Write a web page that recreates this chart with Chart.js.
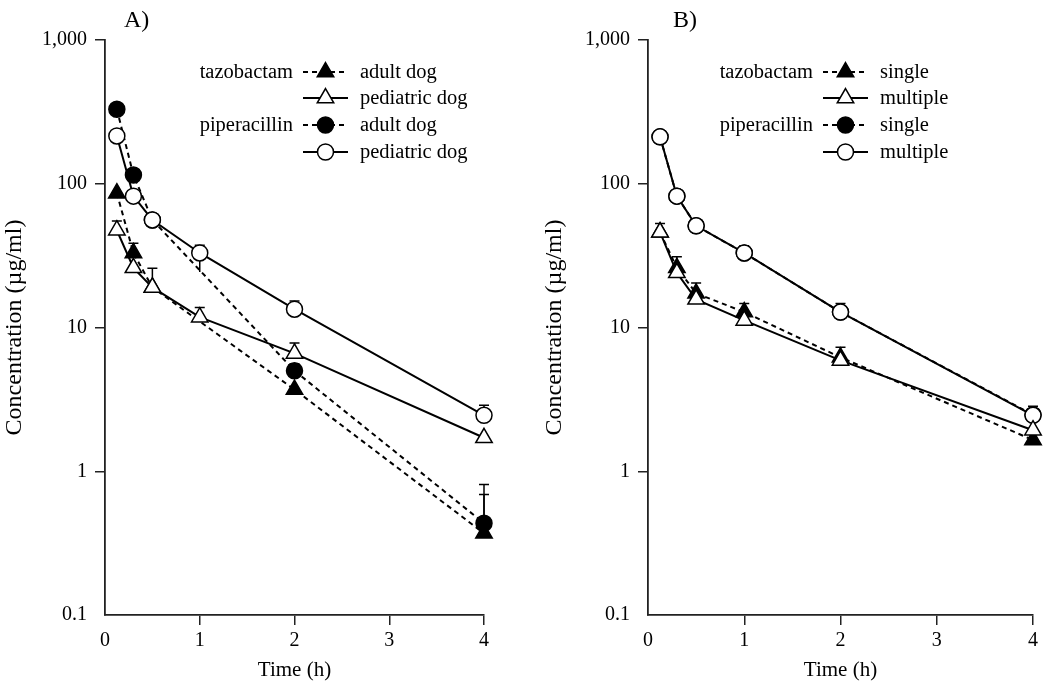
<!DOCTYPE html>
<html><head><meta charset="utf-8">
<script src="https://cdn.jsdelivr.net/npm/chart.js@4.4.0/dist/chart.umd.min.js"></script>
<style>
html,body{margin:0;padding:0;background:#fff;}
#wrap{position:relative;width:1053px;height:683px;overflow:hidden;}
canvas{position:absolute;top:0;}
#ca{left:0;} #cb{left:540px;}
</style></head><body>
<div id="wrap"><canvas id="ca" width="527" height="683"></canvas><canvas id="cb" width="513" height="683"></canvas></div>
<script>
// ---- data ----
const times = [0.125, 0.3, 0.5, 1, 2, 4];
const yTicks = [0.1, 1, 10, 100, 1000];
const yTickLabels = ['0.1', '1', '10', '100', '1,000'];
const xTicks = [0, 1, 2, 3, 4];

// Panel A: adult vs pediatric dog
const aTazAdult      = [86, 33, 19, null, 3.7, 0.37];
const aTazAdultErr   = [null, 38.6, null, null, null, 0.69];
const aTazPed        = [47.5, 26, 19, 11.8, 6.6, 1.71];
const aTazPedErr     = [55, null, 25.8, 13.8, 7.8, null];
const aPipAdult      = [330, 115, 56, null, 5.0, 0.435];
const aPipAdultErr   = [null, null, null, null, 5.6, 0.81];
const aPipPed        = [215, 82, 56, 33, 13.4, 2.45];
const aPipPedErr     = [null, null, null, 37.4, 15.3, 2.88];
const aPipPedErrLow  = [null, null, null, 24.3, null, null];

// Panel B: single vs multiple dose
const bTazSingle     = [46, 26, 17.3, 12.8, 6.2, 1.65];
const bTazSingleErr  = [null, 31, 20.4, 14.7, 7.3, null];
const bTazMult       = [46, 24, 15.7, 11.2, 5.9, 1.93];
const bTazMultErr    = [53, null, null, null, null, null];
const bPipSingle     = [212, 82, 51, 33, 12.8, 2.47];
const bPipMult       = [212, 82, 51, 33, 12.8, 2.45];
const bPipMultErr    = [null, null, null, 37, 14.7, 2.83];

const FONT = "'Liberation Serif', 'Times New Roman', serif";

function pts(vals){ return vals.map((v,i)=>({x: times[i], y: v})); }

function ds(label, vals, filled, style, errUp, errLow, order){
  return {
    label, data: pts(vals), errUp, errLow, order,
    borderColor: '#000', borderWidth: 2,
    borderDash: filled ? [5,4] : [],
    pointStyle: style, pointRadius: style === 'triangle' ? 9.5 : 8,
    pointBorderWidth: 1.5, pointBorderColor: '#000',
    pointBackgroundColor: filled ? '#000' : '#fff',
    fill: false, tension: 0, spanGaps: true, clip: false
  };
}

const errorBars = {
  id: 'errorBars',
  beforeDatasetsDraw(chart){
    const ctx = chart.ctx, xs = chart.scales.x, ys = chart.scales.y;
    ctx.save(); ctx.strokeStyle = '#000'; ctx.lineWidth = 1.5; ctx.setLineDash([]);
    chart.data.datasets.forEach(d => {
      [['errUp', true], ['errLow', false]].forEach(([k, cap]) => {
        const e = d[k]; if (!e) return;
        e.forEach((v, i) => {
          if (v == null || d.data[i].y == null) return;
          const x = xs.getPixelForValue(d.data[i].x);
          const y0 = ys.getPixelForValue(d.data[i].y);
          const y1 = ys.getPixelForValue(v);
          ctx.beginPath(); ctx.moveTo(x, y0); ctx.lineTo(x, y1);
          if (cap) { ctx.moveTo(x - 5, y1); ctx.lineTo(x + 5, y1); }
          ctx.stroke();
        });
      });
    });
    ctx.restore();
  }
};

const customLegend = {
  id: 'customLegend',
  afterDraw(chart, args, opts){
    const ctx = chart.ctx;
    ctx.save();
    ctx.font = '20.5px ' + FONT; ctx.fillStyle = '#000';
    opts.items.forEach((it, r) => {
      const y = opts.rows[r];
      const d = chart.data.datasets[it.ds];
      if (it.group) { ctx.fillStyle = '#000'; ctx.textAlign = 'right'; ctx.textBaseline = 'alphabetic'; ctx.fillText(it.group, opts.x - 10, y + 6); }
      ctx.strokeStyle = '#000'; ctx.lineWidth = 2; ctx.setLineDash(d.borderDash);
      ctx.beginPath(); ctx.moveTo(opts.x, y); ctx.lineTo(opts.x + 45, y); ctx.stroke();
      ctx.setLineDash([]);
      ctx.fillStyle = d.pointBackgroundColor; ctx.strokeStyle = '#000'; ctx.lineWidth = 1.5;
      Chart.helpers.drawPoint(ctx, {pointStyle: d.pointStyle, radius: d.pointRadius, rotation: 0, borderWidth: 1.5}, opts.x + 22.5, y);
      ctx.fillStyle = '#000'; ctx.textAlign = 'left'; ctx.textBaseline = 'alphabetic';
      ctx.fillText(it.label, opts.x + 57, y + 6);
    });
    ctx.restore();
  }
};

const panelLabel = {
  id: 'panelLabel',
  afterDraw(chart, args, opts){
    const ctx = chart.ctx;
    ctx.save(); ctx.font = '24px ' + FONT; ctx.fillStyle = '#000';
    ctx.textAlign = 'left'; ctx.textBaseline = 'alphabetic';
    ctx.fillText(opts.text, opts.x, 27);
    ctx.restore();
  }
};

function makeChart(id, datasets, yWidth, rightPad, legendOpts, labelOpts){
  const axisCol = '#222';
  return new Chart(document.getElementById(id), {
    type: 'line',
    data: { datasets },
    plugins: [errorBars, customLegend, panelLabel],
    options: {
      responsive: false, animation: false, devicePixelRatio: 1,
      layout: { padding: { top: 40, right: rightPad, left: 0, bottom: 0 } },
      plugins: {
        legend: { display: false }, tooltip: { enabled: false },
        customLegend: legendOpts, panelLabel: labelOpts
      },
      scales: {
        x: {
          type: 'linear', min: 0, max: 4,
          afterBuildTicks: s => { s.ticks = xTicks.map(v => ({value: v})); },
          ticks: { color: '#000', font: { family: FONT, size: 20 }, padding: 4, maxRotation: 0 },
          grid: { drawOnChartArea: false, drawTicks: true, tickLength: 10,
                  color: c => c.index === 0 ? 'rgba(0,0,0,0)' : axisCol, lineWidth: 1.5 },
          border: { color: axisCol, width: 1.8 },
          title: { display: true, text: 'Time (h)', color: '#000', font: { family: FONT, size: 21 }, padding: { top: 0, bottom: 0 } },
          afterFit: s => { s.height = 68; }
        },
        y: {
          type: 'logarithmic', min: 0.1, max: 1000,
          afterBuildTicks: s => { s.ticks = yTicks.map(v => ({value: v})); },
          ticks: { color: '#000', font: { family: FONT, size: 20 }, padding: 8,
                   callback: (v, i) => yTickLabels[i] },
          grid: { drawOnChartArea: false, drawTicks: true, tickLength: 10,
                  color: c => c.index === 0 ? 'rgba(0,0,0,0)' : axisCol, lineWidth: 1.5 },
          border: { color: axisCol, width: 1.8 },
          title: { display: true, text: 'Concentration (µg/ml)', color: '#000', font: { family: FONT, size: 24 }, padding: { top: 0, bottom: 0 } },
          afterFit: s => { s.width = yWidth; }
        }
      }
    }
  });
}

const rows = [72, 98, 125, 152];

makeChart('ca', [
  ds('tazobactam adult dog', aTazAdult, true, 'triangle', aTazAdultErr, null, 1),
  ds('tazobactam pediatric dog', aTazPed, false, 'triangle', aTazPedErr, null, 0),
  ds('piperacillin adult dog', aPipAdult, true, 'circle', aPipAdultErr, null, 1),
  ds('piperacillin pediatric dog', aPipPed, false, 'circle', aPipPedErr, aPipPedErrLow, 0)
], 105, 43, {
  x: 303, rows,
  items: [
    {group: 'tazobactam', label: 'adult dog', ds: 0},
    {label: 'pediatric dog', ds: 1},
    {group: 'piperacillin', label: 'adult dog', ds: 2},
    {label: 'pediatric dog', ds: 3}
  ]
}, {text: 'A)', x: 124});

makeChart('cb', [
  ds('tazobactam single', bTazSingle, true, 'triangle', bTazSingleErr, null, 1),
  ds('tazobactam multiple', bTazMult, false, 'triangle', bTazMultErr, null, 0),
  ds('piperacillin single', bPipSingle, true, 'circle', null, null, 1),
  ds('piperacillin multiple', bPipMult, false, 'circle', bPipMultErr, null, 0)
], 108, 20, {
  x: 283, rows,
  items: [
    {group: 'tazobactam', label: 'single', ds: 0},
    {label: 'multiple', ds: 1},
    {group: 'piperacillin', label: 'single', ds: 2},
    {label: 'multiple', ds: 3}
  ]
}, {text: 'B)', x: 133});
</script>
</body></html>
